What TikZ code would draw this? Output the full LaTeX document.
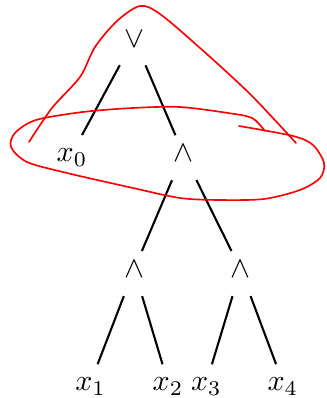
\documentclass[tikz,border=0pt]{standalone}
\begin{document}
\begin{tikzpicture}[
  x=1pt,y=1pt,
  op/.style={minimum width=10pt,text height=5.6pt,text depth=0pt,inner xsep=0pt,inner ysep=4.5pt},
  link/.style={line width=0.7pt,shorten <=1.5pt,shorten >=-1.5pt},
  pen/.style={red,line width=0.55pt,line cap=round,line join=round}
]
  \useasboundingbox (0,0) rectangle (108.67,-132.67);
  % formula tree
  \node[op] (or) at (44.7,-12.9) {$\vee$};
  \node[op] (x0) at (24,-51.2) {$x_0$};
  \node[op] (and) at (61.1,-51.2) {$\wedge$};
  \node[op] (andl) at (44.7,-89.8) {$\wedge$};
  \node[op] (andr) at (80.2,-89.8) {$\wedge$};
  \node[op] (x1) at (30.2,-127.5) {$x_1$};
  \node[op] (x2) at (56,-127.5) {$x_2$};
  \node[op] (x3) at (68.8,-127.5) {$x_3$};
  \node[op] (x4) at (94.3,-127.5) {$x_4$};
  \draw[link] (or)--(x0); \draw[link] (or)--(and);
  \draw[link] (and)--(andl); \draw[link] (and)--(andr);
  \draw[link] (andl)--(x1); \draw[link] (andl)--(x2);
  \draw[link] (andr)--(x3); \draw[link] (andr)--(x4);
  % red marks
  \draw[pen] plot[smooth] coordinates {(9.67,-47.33) (17.33,-36) (26.67,-25.67)
    (31.67,-15.67) (39,-7) (46.67,-2) (53.33,-4.67) (66.67,-16) (83.33,-31.33)
    (98.67,-47.67)};
  \draw[pen] plot[smooth] coordinates {(79.67,-42) (97.67,-45.33)
    (104.33,-48.33) (108,-54.33) (106.67,-59.33) (100,-63.33)
    (88,-66.33) (73,-66.67) (60,-66) (44.33,-62.67)
    (22.33,-57.67) (9,-54) (3.67,-49) (5,-44.33)
    (12,-40) (27.67,-37.33) (44.33,-36) (60,-35.67)
    (76,-37.67) (84,-39.33) (88.33,-43.67)};
\end{tikzpicture}
\end{document}
